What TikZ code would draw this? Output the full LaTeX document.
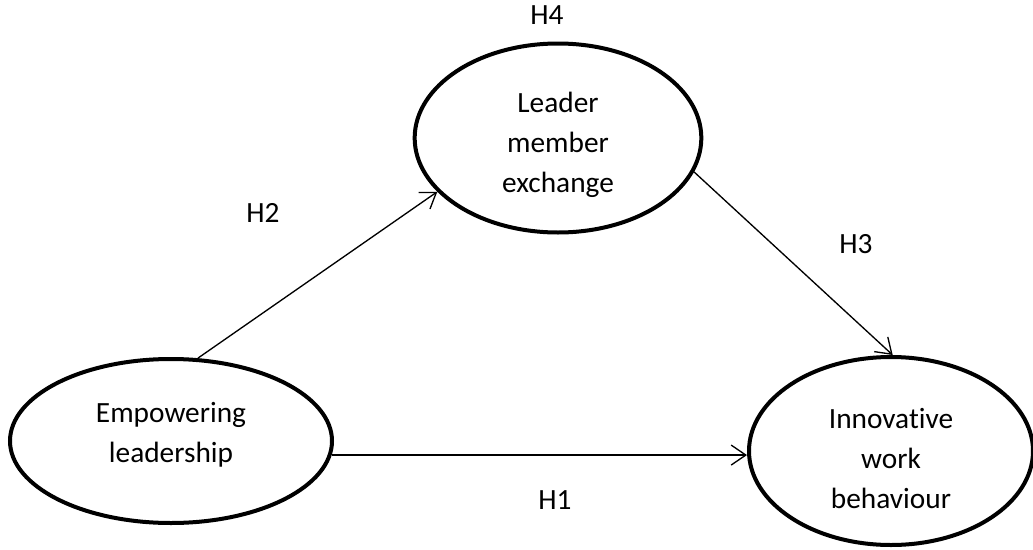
\documentclass[tikz,border=0pt]{standalone}
\usepackage{fontspec}
\setmainfont{Carlito}[Ligatures=NoCommon]
\usetikzlibrary{arrows.meta,shapes.geometric}

\begin{document}
\begin{tikzpicture}[x=0.75pt,y=-0.75pt,
  var/.style={draw,ellipse,line width=3pt,inner sep=0pt},
  txt/.style={font=\fontsize{22}{30}\selectfont,align=center},
  hyp/.style={-{Straight Barb[length=11pt,width=15pt]},line width=1pt}]
\useasboundingbox (0,0) rectangle (1033,550);

\node[var,minimum width=241.5pt,minimum height=123pt,
  label={[txt,name=empt,yshift=4.5pt]center:Empowering\\leadership}] (emp) at (171,441) {};
\node[var,minimum width=215pt,minimum height=141.75pt,
  label={[txt,name=lmxt,yshift=-5pt]center:Leader\\member\\exchange}] (lmx) at (558,138) {};
\node[var,minimum width=213pt,minimum height=141pt,
  label={[txt,name=innt,yshift=-6pt]center:Innovative\\work\\behaviour}] (inn) at (891,451) {};

\draw[hyp] (emp.72) -- (lmx.204);
\draw[hyp] (lmx.-14) -- (inn.89);
\draw[hyp] (emp.-5) -- (emp.-5 -| inn.west);

\node[txt] (h1) at (555,500) {H1};
\node[txt] (h2) at (263,213) {H2};
\node[txt] (h3) at (856,244) {H3};
\node[txt] (h4) at (547,15) {H4};
\end{tikzpicture}
\end{document}
